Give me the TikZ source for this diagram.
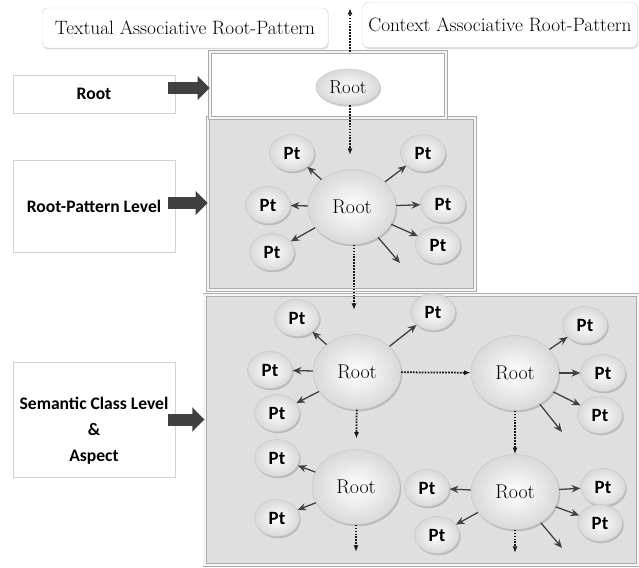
\documentclass[tikz,border=0pt]{standalone}
\usepackage{fontspec}
\newfontfamily\carlito{Carlito}
\usetikzlibrary{arrows.meta,positioning,shapes.geometric,shadows,calc}
\tikzset{
  rpbubble/.style={ellipse, draw=gray!45, thin, inner sep=0pt, inner color=white, outer color=gray!30,
                 drop shadow={opacity=0.4, shadow xshift=1pt, shadow yshift=-1.5pt}},
  rproot/.style={rpbubble, font=\fontsize{17}{20}\selectfont, minimum width=2.64cm, minimum height=2.25cm},
  rppt/.style={rpbubble, font=\carlito\bfseries\fontsize{16}{19}\selectfont, minimum width=1.35cm, minimum height=1.11cm},
  rplabel/.style={draw=gray!35, fill=white, align=center, minimum width=4.86cm,
                 font=\carlito\bfseries\fontsize{15}{22}\selectfont,
                 drop shadow={opacity=0.3, shadow xshift=0.6pt, shadow yshift=-1.2pt}},
  rptop/.style={draw=gray!30, fill=white, rounded corners=5pt, inner sep=2pt, font=\fontsize{16.5}{20}\selectfont,
                 drop shadow={opacity=0.3, shadow xshift=0.6pt, shadow yshift=-1.2pt}},
  rppanel/.style={draw=gray!65, double=gray!8, double distance=2.5pt, line width=0.6pt,
                 drop shadow={opacity=0.4, shadow xshift=1.5pt, shadow yshift=-1.5pt}},
  rparr/.style={-{Stealth[length=2.6mm, width=2.2mm]}, line width=1.1pt, black!75},
  rpdot/.style={-{Latex[length=2mm]}, densely dotted, line width=1.5pt, black!90},
  rpbig/.style={-{Triangle[length=3.6mm, width=7mm]}, line width=3.6mm, black!75}
}
\begin{document}
\begin{tikzpicture}[x=0.03cm, y=-0.03cm]
\useasboundingbox (0,0) rectangle (639,568);

\node[rptop, minimum width=8.58cm, minimum height=1.2cm] (txtbox) at (185,28) {Textual Associative Root-Pattern};
\node[rptop, minimum width=8.25cm, minimum height=1.35cm] (ctxbox) at (500,25) {Context Associative Root-Pattern};

\node[rppanel, fill=gray!25, minimum width=8.01cm, minimum height=5.16cm] (rplevel) at (341.5,204) {};
\node[rppanel, fill=white, minimum width=7.08cm, minimum height=1.98cm] (rootlevel) at (328,85) {};
\node[rppanel, fill=gray!25, minimum width=13.0cm, minimum height=8.1cm] (sclevel) at (421.5,430) {};

\node[rplabel, minimum height=1.14cm] (lblroot) at (94,94) {Root};
\node[rplabel, minimum height=2.76cm] (lblrp) at (94,206) {Root-Pattern Level};
\node[rplabel, minimum height=3.45cm] (lblsc) at (94,419.5) {\rule{0pt}{30pt}Semantic Class Level\\\&\\Aspect};

\draw[rpbig] ($(lblroot.east)+(-7,-6)$) -- ($(lblroot.east -| rootlevel.west)+(0,-6)$);
\draw[rpbig] ($(lblrp.east)+(-7,-3)$) -- ($(lblrp.east -| rplevel.west)+(0,-3)$);
\draw[rpbig] ($(lblsc.east)+(-7,0)$) -- (lblsc.east -| sclevel.west);

\coordinate (upend) at (350,8);
\draw[rpdot] (rootlevel.north -| upend) -- (upend);

\node[rpbubble, font=\fontsize{16}{19}\selectfont, minimum width=1.92cm, minimum height=1.08cm] (rtop) at (348,87) {Root};
\coordinate (rpin) at (350,155);
\draw[rpdot] (rtop.south -| rpin) -- (rpin);

\node[rproot] (rp) at (352,207) {Root};
\node[rppt] (rp1) at (292,153) {Pt};
\node[rppt] (rp2) at (423,153) {Pt};
\node[rppt] (rp3) at (268,205) {Pt};
\node[rppt] (rp4) at (443,204) {Pt};
\node[rppt] (rp5) at (272,252) {Pt};
\node[rppt] (rp6) at (438,245) {Pt};
\coordinate (rpfree) at (400,263);
\foreach \p in {1,...,6}
  \draw[rparr] (rp) -- (rp\p);
\draw[rparr] (rp) -- (rpfree);
\coordinate (scin) at (354,310);
\draw[rpdot] (rp.south -| scin) -- (scin);

\node[rproot] (sc1) at (357,372) {Root};
\node[rproot] (sc2) at (515,373) {Root};
\node[rproot] (sc3) at (356,487) {Root};
\node[rproot] (sc4) at (515,492) {Root};

\node[rppt] (sc1a) at (297,318) {Pt};
\node[rppt] (sc1b) at (270,370) {Pt};
\node[rppt] (sc1c) at (277,413) {Pt};
\node[rppt] (sc1d) at (433,312) {Pt};
\node[rppt] (sc2a) at (585,325) {Pt};
\node[rppt] (sc2b) at (603,373) {Pt};
\node[rppt] (sc2c) at (600,415) {Pt};
\node[rppt] (sc3a) at (277,458) {Pt};
\node[rppt] (sc3b) at (277,518) {Pt};
\node[rppt] (sc4a) at (427,488) {Pt};
\node[rppt] (sc4b) at (437,535) {Pt};
\node[rppt] (sc4c) at (603,487) {Pt};
\node[rppt] (sc4d) at (600,523) {Pt};
\coordinate (sc2free) at (562,432);
\coordinate (sc4free) at (562,548);

\foreach \p in {a,b,c,d}
  \draw[rparr] (sc1) -- (sc1\p);
\foreach \p in {a,b,c}
  \draw[rparr] (sc2) -- (sc2\p);
\foreach \p in {a,b}
  \draw[rparr] (sc3) -- (sc3\p);
\foreach \p in {a,b,c,d}
  \draw[rparr] (sc4) -- (sc4\p);
\draw[rparr] (sc2) -- (sc2free);
\draw[rparr] (sc4) -- (sc4free);

\coordinate (sc3out) at (356,552);
\coordinate (sc4out) at (515,553);
\draw[rpdot] (sc1) -- (sc2);
\draw[rpdot, shorten >=9pt] (sc1) -- (sc3);
\draw[rpdot] (sc2) -- (sc4);
\draw[rpdot] (sc3) -- (sc3out);
\draw[rpdot] (sc4) -- (sc4out);
\end{tikzpicture}
\end{document}
